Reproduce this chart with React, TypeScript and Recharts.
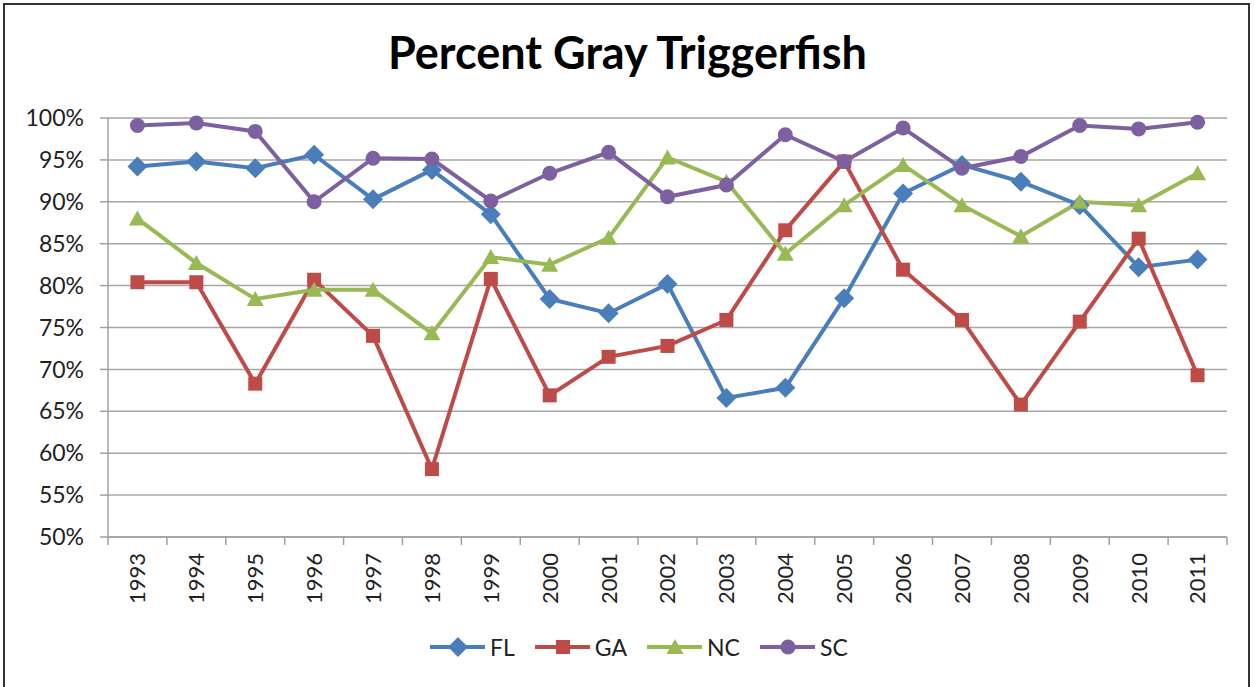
import React from 'react'
import {
    LineChart,
    Line,
    XAxis,
    YAxis,
    CartesianGrid,
} from 'recharts';

const years = ['1993', '1994', '1995', '1996', '1997', '1998', '1999', '2000', '2001', '2002',
    '2003', '2004', '2005', '2006', '2007', '2008', '2009', '2010', '2011'];

const fl = [94.2, 94.8, 94.0, 95.6, 90.3, 93.8, 88.5, 78.4, 76.7, 80.2, 66.6, 67.8, 78.5, 91.0, 94.4, 92.4, 89.6, 82.2, 83.1];
const ga = [80.4, 80.4, 68.3, 80.7, 74.0, 58.1, 80.8, 66.9, 71.5, 72.8, 75.9, 86.6, 94.8, 81.9, 75.9, 65.8, 75.7, 85.6, 69.3];
const nc = [88.0, 82.7, 78.4, 79.5, 79.5, 74.3, 83.4, 82.5, 85.7, 95.3, 92.4, 83.8, 89.6, 94.4, 89.6, 85.9, 90.0, 89.6, 93.4];
const sc = [99.1, 99.4, 98.4, 90.0, 95.2, 95.1, 90.1, 93.4, 95.9, 90.6, 92.0, 98.0, 94.8, 98.8, 94.0, 95.4, 99.1, 98.7, 99.5];

const yTicks = [50, 55, 60, 65, 70, 75, 80, 85, 90, 95, 100];

const seriesNames = ['FL', 'GA', 'NC', 'SC'];
const colors: any = {
    FL: '#4a7ebb',
    GA: '#be4b48',
    NC: '#98b954',
    SC: '#7d60a0',
};

const data = years.map((y, i) => ({year: y, FL: fl[i], GA: ga[i], NC: nc[i], SC: sc[i]}));

const W = 1255;
const H = 687;
const margin = {top: 118, right: 28, bottom: 0, left: 0};
const yAxisWidth = 108;
const bandWidth = (W - margin.left - margin.right - yAxisWidth) / years.length;
const font = 'Lato, "Open Sans", sans-serif';

const marker = (name: string, cx: number, cy: number, key?: any) => {
    const c = colors[name];
    if (name === 'FL') {
        return <polygon key={key} points={`${cx},${cy - 10} ${cx + 10},${cy} ${cx},${cy + 10} ${cx - 10},${cy}`} fill={c}/>;
    }
    if (name === 'GA') {
        return <rect key={key} x={cx - 7} y={cy - 7} width={14} height={14} fill={c}/>;
    }
    if (name === 'NC') {
        return <polygon key={key} points={`${cx},${cy - 8} ${cx + 8.5},${cy + 7} ${cx - 8.5},${cy + 7}`} fill={c}/>;
    }
    return <circle key={key} cx={cx} cy={cy} r={7.5} fill={c}/>;
};

const makeDot = (name: string) => (props: any) => {
    const {cx, cy, index} = props;
    if (cx == null || cy == null) return <g key={index}/>;
    return marker(name, cx, cy, `${name}-${index}`);
};

// excel style: tick marks between categories, labels turned up
const XTick = (props: any) => {
    const {x, y, payload, index} = props;
    const ty = y + 16;
    return <g>
        <line x1={x - bandWidth / 2} x2={x - bandWidth / 2} y1={y} y2={y + 8} stroke="#a0a0a0" strokeWidth={1.5}/>
        {index === years.length - 1 &&
            <line x1={x + bandWidth / 2} x2={x + bandWidth / 2} y1={y} y2={y + 8} stroke="#a0a0a0" strokeWidth={1.5}/>}
        <text x={x} y={ty} transform={`rotate(-90, ${x}, ${ty})`} textAnchor="end" dy="0.36em"
              fontSize={22} fontFamily={font} fill="#222">{payload.value}</text>
    </g>;
};

const LegendRow = () => {
    return <div style={{
        position: 'absolute', left: 430, top: 632, display: 'flex',
        fontFamily: font, fontSize: 23, color: '#222'
    }}>
        {seriesNames.map(n => (
            <div key={n} style={{display: 'flex', alignItems: 'center', marginRight: 20}}>
                <svg width={56} height={30}>
                    <line x1={0} x2={55} y1={15} y2={15} stroke={colors[n]} strokeWidth={4}/>
                    {marker(n, 28, 15)}
                </svg>
                <span style={{marginLeft: 4}}>{n}</span>
            </div>
        ))}
    </div>;
};

const App = () => {
    return <div style={{position: 'fixed', left: 0, top: 0, width: W, height: H, overflow: 'hidden', background: '#fff'}}>
        <div style={{
            position: 'absolute', left: 3, top: 3, width: W - 8, height: H + 20,
            border: '2px solid #333', boxSizing: 'border-box'
        }}/>
        <div style={{
            position: 'absolute', left: 0, top: 24, width: W, textAlign: 'center',
            fontFamily: font, fontWeight: 'bold', fontSize: 45, color: '#000', lineHeight: '56px'
        }}>Percent Gray Triggerfish</div>
        <div style={{position: 'absolute', left: 0, top: 0}}>
            <LineChart width={W} height={H} data={data} margin={margin}>
                <CartesianGrid vertical={false} stroke="#a6a6a6" strokeWidth={1.5}/>
                <XAxis dataKey="year" scale="band" height={150} interval={0} tickLine={false} tickSize={0} tickMargin={0}
                       axisLine={{stroke: '#a0a0a0', strokeWidth: 1.5}} tick={<XTick/>}/>
                <YAxis width={yAxisWidth} domain={[50, 100]} ticks={yTicks} interval={0}
                       tickFormatter={(v: number) => `${v}%`} tickSize={8} tickMargin={16}
                       tickLine={{stroke: '#a0a0a0', strokeWidth: 1.5}}
                       axisLine={{stroke: '#a0a0a0', strokeWidth: 1.5}}
                       tick={{fontSize: 23, fontFamily: font, fill: '#222'}}/>
                {seriesNames.map(n => (
                    <Line key={n} type="linear" dataKey={n} stroke={colors[n]} strokeWidth={4}
                          dot={makeDot(n)} activeDot={false} isAnimationActive={false}/>
                ))}
            </LineChart>
        </div>
        <LegendRow/>
    </div>;
};

export default App;
